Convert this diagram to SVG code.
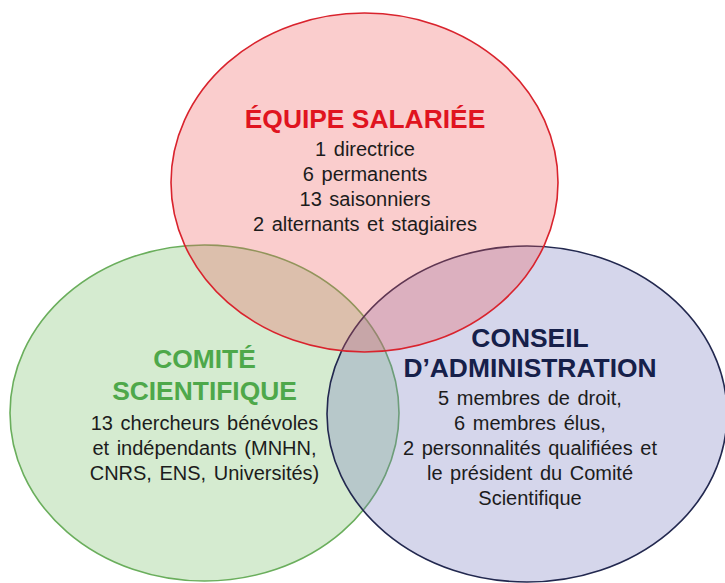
<svg xmlns="http://www.w3.org/2000/svg" width="725" height="583" viewBox="0 0 725 583">
  <style>
    .set { stroke-width: 1.6; fill-opacity: 0.3; }
    .title { font-family: "Liberation Sans", Arial, sans-serif; font-weight: bold; font-size: 26.4px; text-anchor: middle; }
    .body { font-family: "Liberation Sans", Arial, sans-serif; font-size: 20px; text-anchor: middle; fill: #1c1c1c; word-spacing: 2px; }
  </style>
  <rect width="725" height="583" fill="#ffffff"/>

  <!-- Comité scientifique -->
  <g id="comite">
    <ellipse class="set" cx="204.5" cy="413" rx="194.5" ry="168" fill="#73bc62" stroke="#6aae5c"/>
    <text class="title" fill="#4ea84a" x="204.5" y="368">COMITÉ</text>
    <text class="title" fill="#4ea84a" x="204.5" y="400">SCIENTIFIQUE</text>
    <text class="body" x="204.5" y="430">13 chercheurs bénévoles</text>
    <text class="body" x="204.5" y="455">et indépendants (MNHN,</text>
    <text class="body" x="204.5" y="480">CNRS, ENS, Universités)</text>
  </g>

  <!-- Conseil d'administration -->
  <g id="conseil">
    <ellipse class="set" cx="527" cy="414" rx="200" ry="168" fill="#7376bc" stroke="#22284f"/>
    <text class="title" fill="#16204a" x="530" y="347">CONSEIL</text>
    <text class="title" fill="#16204a" x="530" y="377">D’ADMINISTRATION</text>
    <text class="body" x="530" y="405">5 membres de droit,</text>
    <text class="body" x="530" y="430">6 membres élus,</text>
    <text class="body" x="530" y="455">2 personnalités qualifiées et</text>
    <text class="body" x="530" y="480">le président du Comité</text>
    <text class="body" x="530" y="505">Scientifique</text>
  </g>

  <!-- Équipe salariée -->
  <g id="equipe">
    <ellipse class="set" cx="364.5" cy="182.5" rx="193.5" ry="169.5" fill="#ee5858" stroke="#d9232d"/>
    <text class="title" fill="#e0141f" x="365" y="128">ÉQUIPE SALARIÉE</text>
    <text class="body" x="365" y="156">1 directrice</text>
    <text class="body" x="365" y="181">6 permanents</text>
    <text class="body" x="365" y="206">13 saisonniers</text>
    <text class="body" x="365" y="231">2 alternants  et stagiaires</text>
  </g>

  <g id="connectors"/>
</svg>
